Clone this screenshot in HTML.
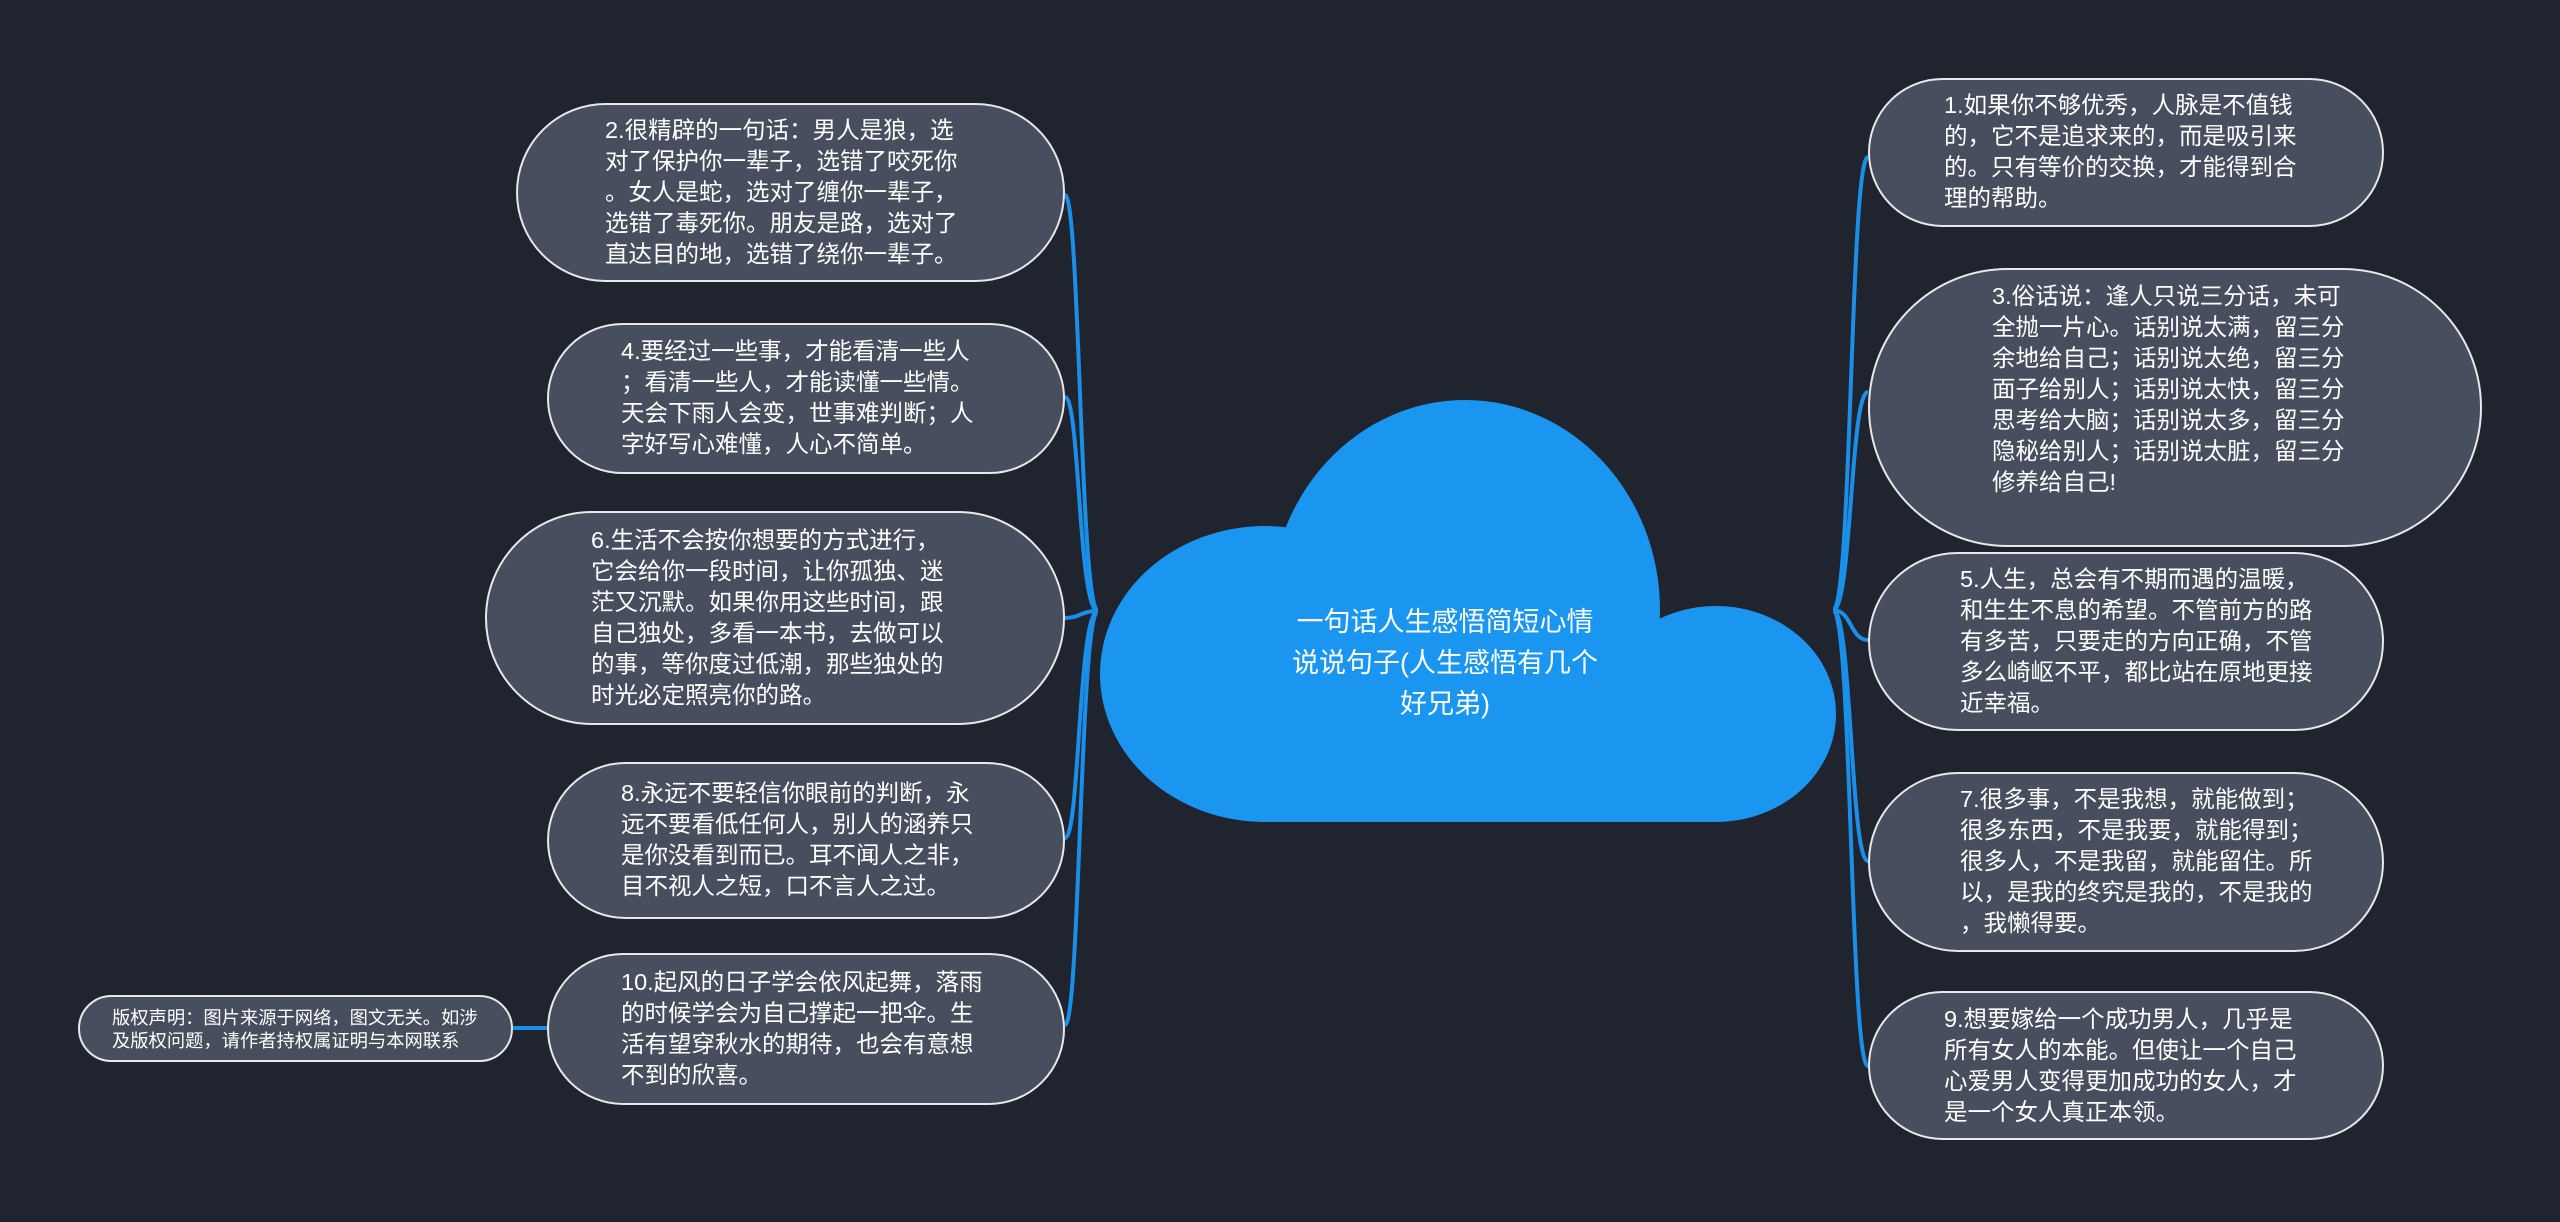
<!DOCTYPE html>
<html><head><meta charset="utf-8"><style>
html,body{margin:0;padding:0;}
body{width:2560px;height:1222px;background:#20242f;position:relative;overflow:hidden;font-family:"Liberation Sans","Noto Sans CJK SC",sans-serif;color:#fff;}
.n{position:absolute;box-sizing:border-box;background:#474f5e;border:2px solid #e8e8e8;border-radius:200px;display:flex;align-items:center;}
.t{position:absolute;white-space:nowrap;font-size:23.5px;line-height:31px;}
svg{position:absolute;left:0;top:0;}
.c{position:absolute;left:1245px;top:602px;width:400px;text-align:center;font-size:27px;line-height:41px;white-space:nowrap;}
</style></head><body>
<svg width="2560" height="1222">
<g fill="none" stroke="#1a8fe8" stroke-width="4">
<path d="M1098 611 C1080 611,1080 195,1065 195"/>
<path d="M1098 611 C1078 611,1080 397,1065 397"/>
<path d="M1098 611 C1080 611,1080 618,1065 618"/>
<path d="M1098 611 C1078 611,1080 838,1065 838"/>
<path d="M1098 611 C1080 611,1080 1025,1065 1025"/>
<path d="M1833 610 C1852 610,1850 157,1868 157"/>
<path d="M1833 610 C1852 610,1850 392,1868 392"/>
<path d="M1833 610 C1852 610,1850 640,1868 640"/>
<path d="M1833 610 C1852 610,1850 861,1868 861"/>
<path d="M1833 610 C1852 610,1850 1066,1868 1066"/>
<path d="M513 1028 L547 1028"/>
</g>
<g fill="#1a96f0">
<ellipse cx="1265" cy="674" rx="165" ry="148"/>
<ellipse cx="1465" cy="610" rx="195" ry="210"/>
<ellipse cx="1716" cy="714" rx="120" ry="108"/>
<rect x="1260" y="640" width="460" height="182"/>
</g>
</svg>
<div class="c">一句话人生感悟简短心情<br>说说句子(人生感悟有几个<br>好兄弟)</div>

<div class="n" style="left:516px;top:103px;width:549px;height:179px"></div>
<div class="t" style="left:605px;top:115px">2.很精辟的一句话：男人是狼，选<br>对了保护你一辈子，选错了咬死你<br>。女人是蛇，选对了缠你一辈子，<br>选错了毒死你。朋友是路，选对了<br>直达目的地，选错了绕你一辈子。</div>

<div class="n" style="left:547px;top:323px;width:518px;height:151px"></div>
<div class="t" style="left:621px;top:336px">4.要经过一些事，才能看清一些人<br>；看清一些人，才能读懂一些情。<br>天会下雨人会变，世事难判断；人<br>字好写心难懂，人心不简单。</div>

<div class="n" style="left:485px;top:511px;width:580px;height:214px"></div>
<div class="t" style="left:591px;top:525px">6.生活不会按你想要的方式进行，<br>它会给你一段时间，让你孤独、迷<br>茫又沉默。如果你用这些时间，跟<br>自己独处，多看一本书，去做可以<br>的事，等你度过低潮，那些独处的<br>时光必定照亮你的路。</div>

<div class="n" style="left:547px;top:762px;width:518px;height:157px"></div>
<div class="t" style="left:621px;top:778px">8.永远不要轻信你眼前的判断，永<br>远不要看低任何人，别人的涵养只<br>是你没看到而已。耳不闻人之非，<br>目不视人之短，口不言人之过。</div>

<div class="n" style="left:547px;top:953px;width:518px;height:152px"></div>
<div class="t" style="left:621px;top:967px">10.起风的日子学会依风起舞，落雨<br>的时候学会为自己撑起一把伞。生<br>活有望穿秋水的期待，也会有意想<br>不到的欣喜。</div>

<div class="n" style="left:78px;top:995px;width:435px;height:67px"></div>
<div class="t" style="left:112px;top:1006px;font-size:18.3px;line-height:23px">版权声明：图片来源于网络，图文无关。如涉<br>及版权问题，请作者持权属证明与本网联系</div>

<div class="n" style="left:1868px;top:78px;width:516px;height:149px"></div>
<div class="t" style="left:1944px;top:90px">1.如果你不够优秀，人脉是不值钱<br>的，它不是追求来的，而是吸引来<br>的。只有等价的交换，才能得到合<br>理的帮助。</div>

<div class="n" style="left:1868px;top:268px;width:614px;height:279px"></div>
<div class="t" style="left:1992px;top:281px">3.俗话说：逢人只说三分话，未可<br>全抛一片心。话别说太满，留三分<br>余地给自己；话别说太绝，留三分<br>面子给别人；话别说太快，留三分<br>思考给大脑；话别说太多，留三分<br>隐秘给别人；话别说太脏，留三分<br>修养给自己!</div>

<div class="n" style="left:1868px;top:552px;width:516px;height:179px"></div>
<div class="t" style="left:1960px;top:564px">5.人生，总会有不期而遇的温暖，<br>和生生不息的希望。不管前方的路<br>有多苦，只要走的方向正确，不管<br>多么崎岖不平，都比站在原地更接<br>近幸福。</div>

<div class="n" style="left:1868px;top:772px;width:516px;height:180px"></div>
<div class="t" style="left:1960px;top:784px">7.很多事，不是我想，就能做到；<br>很多东西，不是我要，就能得到；<br>很多人，不是我留，就能留住。所<br>以，是我的终究是我的，不是我的<br>，我懒得要。</div>

<div class="n" style="left:1868px;top:991px;width:516px;height:149px"></div>
<div class="t" style="left:1944px;top:1004px">9.想要嫁给一个成功男人，几乎是<br>所有女人的本能。但使让一个自己<br>心爱男人变得更加成功的女人，才<br>是一个女人真正本领。</div>
</body></html>
